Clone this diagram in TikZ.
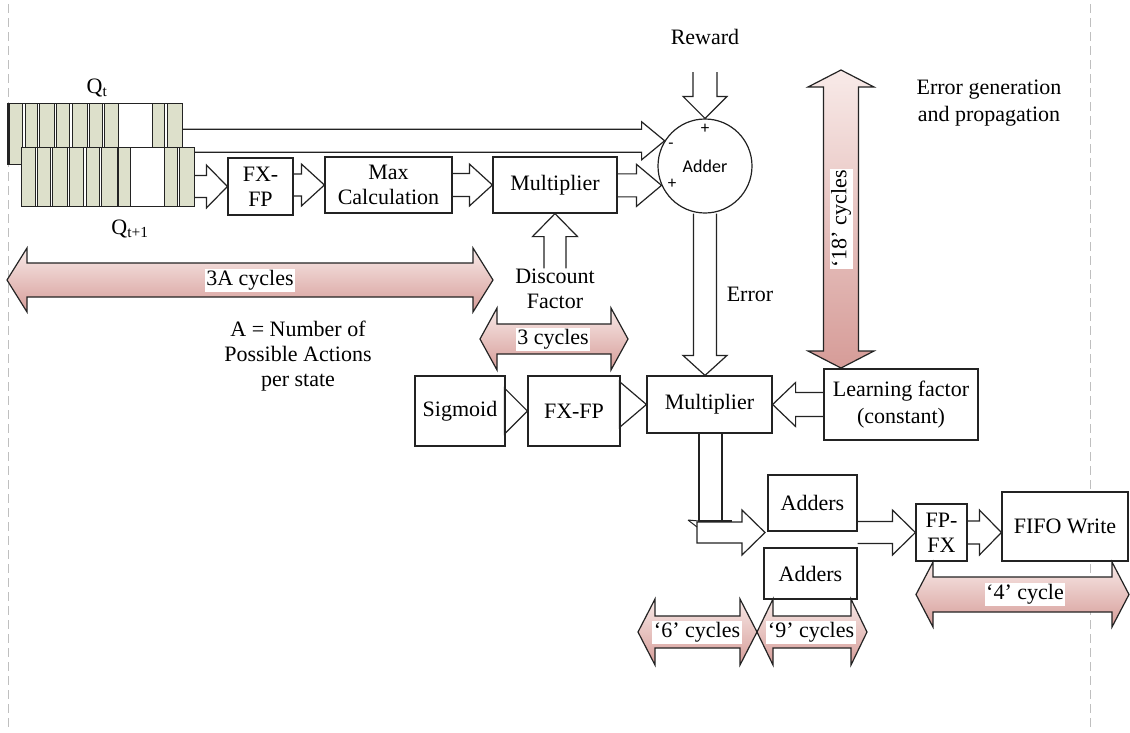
\documentclass[tikz,border=0pt]{standalone}
\usepackage{fontspec}
\setmainfont{Liberation Serif}
\newfontfamily\calib{Carlito}
\usetikzlibrary{calc}

\definecolor{cellgreen}{RGB}{221,224,203}
\definecolor{pinkL}{RGB}{248,234,232}
\definecolor{pinkD}{RGB}{214,156,152}
\definecolor{ink}{RGB}{35,35,35}

\tikzset{
  box/.style={draw=ink, line width=1.2pt, fill=white, inner sep=0pt, align=center},
  flow/.style={draw=ink, line width=1.2pt, line join=miter},
  span/.style={draw=ink, line width=1.2pt, top color=pinkL, bottom color=pinkD},
  spantext/.style={fill=white, inner sep=1.5pt},
  cell/.style={draw=ink, line width=1pt, fill=cellgreen},
  lbl/.style={inner sep=0pt, align=center},
  pm/.style={inner sep=0pt, font=\calib\fontsize{17}{17}\selectfont},
  guide/.style={draw=black!25, line width=1pt, dash pattern=on 9pt off 5pt},
  wide/.style={font=\fontsize{22}{27}\selectfont},
}

% block arrow, horizontal: [style]{start}{tip}{shaft half}{head half}{head length}
\newcommand\hflow[6][flow]{%
  \path[#1] let \p1=(#2), \p2=(#3), \n1={ifthenelse(\x2>\x1,1,-1)} in
   (\x1,{\y2+#4pt}) -- ({\x2-\n1*#6pt},{\y2+#4pt}) -- ({\x2-\n1*#6pt},{\y2+#5pt})
   -- (\x2,\y2) -- ({\x2-\n1*#6pt},{\y2-#5pt}) -- ({\x2-\n1*#6pt},{\y2-#4pt}) -- (\x1,{\y2-#4pt});}
% same, closed at its tail
\newcommand\hflowc[6][flow]{%
  \path[#1] let \p1=(#2), \p2=(#3), \n1={ifthenelse(\x2>\x1,1,-1)} in
   (\x1,{\y2+#4pt}) -- ({\x2-\n1*#6pt},{\y2+#4pt}) -- ({\x2-\n1*#6pt},{\y2+#5pt})
   -- (\x2,\y2) -- ({\x2-\n1*#6pt},{\y2-#5pt}) -- ({\x2-\n1*#6pt},{\y2-#4pt}) -- (\x1,{\y2-#4pt}) -- cycle;}
% block arrow, vertical
\newcommand\vflow[6][flow]{%
  \path[#1] let \p1=(#2), \p2=(#3), \n1={ifthenelse(\y2>\y1,1,-1)} in
   ({\x2+#4pt},\y1) -- ({\x2+#4pt},{\y2-\n1*#6pt}) -- ({\x2+#5pt},{\y2-\n1*#6pt})
   -- (\x2,\y2) -- ({\x2-#5pt},{\y2-\n1*#6pt}) -- ({\x2-#4pt},{\y2-\n1*#6pt}) -- ({\x2-#4pt},\y1);}
% double-headed span arrows
\newcommand\hspan[6][span]{%
  \path[#1] let \p1=(#2), \p2=(#3) in (\x1,\y1) -- ({\x1+#6pt},{\y1+#5pt}) -- ({\x1+#6pt},{\y1+#4pt})
   -- ({\x2-#6pt},{\y1+#4pt}) -- ({\x2-#6pt},{\y1+#5pt}) -- (\x2,\y1) -- ({\x2-#6pt},{\y1-#5pt})
   -- ({\x2-#6pt},{\y1-#4pt}) -- ({\x1+#6pt},{\y1-#4pt}) -- ({\x1+#6pt},{\y1-#5pt}) -- cycle;}
\newcommand\vspan[6][span]{%
  \path[#1] let \p1=(#2), \p2=(#3) in (\x1,\y1) -- ({\x1+#5pt},{\y1-#6pt}) -- ({\x1+#4pt},{\y1-#6pt})
   -- ({\x1+#4pt},{\y2+#6pt}) -- ({\x1+#5pt},{\y2+#6pt}) -- (\x1,\y2) -- ({\x1-#5pt},{\y2+#6pt})
   -- ({\x1-#4pt},{\y2+#6pt}) -- ({\x1-#4pt},{\y1-#6pt}) -- ({\x1-#5pt},{\y1-#6pt}) -- cycle;}

\begin{document}
\fontsize{22}{25}\selectfont
\begin{tikzpicture}[x=1pt,y=-1pt]
\useasboundingbox (0,0) rectangle (1130,732);
\fill[white] (0,0) rectangle (1130,732);

% stage guides
\draw[guide] (8,4) -- (8,728);
\draw[guide] (1090,4) -- (1090,728);

% Q-table rows
\node[inner sep=0pt, minimum width=174pt, minimum height=61pt] (qt) at (95,133.5) {};
\node[inner sep=0pt, minimum width=173pt, minimum height=59pt] (qn) at (107.5,176.5) {};
\node[lbl] (qtl) at (97,88) {Q\textsubscript{t}};
\node[lbl] (qnl) at (130,229) {Q\textsubscript{t+1}};

\draw[draw=ink, line width=1pt, fill=white] (8,103) rectangle (182,164);
\foreach \a/\b in {8/22,25/37,39/54,56/69,72/87,89/102,104/118,152/164,167/182}
  \draw[cell] (\a,103) rectangle (\b,164);
\draw[ink, line width=2.4pt] (8.5,103) -- (8.5,164.5);

% blocks
\node[box, circle, minimum size=94pt, font=\calib\fontsize{18}{18}\selectfont] (adder) at (705,166) {Adder};
\node[box, minimum width=65pt, minimum height=57pt] (fxa) at (260.5,186.5) {FX-\\FP};
\node[box, minimum width=127pt, minimum height=56pt] (maxc) at (388.5,185) {Max\\Calculation};
\node[box, minimum width=124pt, minimum height=56pt] (mula) at (555,185) {Multiplier};
\node[box, minimum width=90pt, minimum height=70pt] (sig) at (460,411) {Sigmoid};
\node[box, minimum width=92pt, minimum height=70pt] (fxb) at (574,411) {FX-FP};
\node[box, minimum width=125pt, minimum height=57pt] (mulb) at (709.5,404.5) {Multiplier};
\node[box, wide, minimum width=154pt, minimum height=71pt] (learn) at (901,404.5) {Learning factor\\(constant)};
\node[box, minimum width=89pt, minimum height=56pt] (adda) at (812.5,503) {Adders};
\node[box, minimum width=93pt, minimum height=51pt] (addb) at (810.5,573.5) {Adders};
\node[box, minimum width=51pt, minimum height=57pt] (fpfx) at (941.5,532.5) {FP-\\FX};
\node[box, minimum width=126pt, minimum height=69pt] (fifo) at (1065,526.5) {FIFO Write};

% Q_t into the subtracting input
\hflow{qt.east}{adder.148}{11.5}{19}{23}

% Q_{t+1} row over it
\draw[draw=ink, line width=1pt, fill=white] (21,147) rectangle (194,206);
\foreach \a/\b in {21/35,37/50,52/67,69/83,86/99,101/117,118/130,164/177,179/194}
  \draw[cell] (\a,147) rectangle (\b,206);

% labels
\node[lbl] (rwl) at (705,37) {Reward};
\coordinate (rwd) at (705,72);
\node[lbl] (disc) at (555,288.5) {Discount\\Factor};
\node[lbl] (errl) at (750,294) {Error};
\node[lbl, wide] (egp) at (989,103.5) {Error generation\\and propagation};
\node[lbl, align=center] (anote) at (298,356) {A = Number of\\Possible Actions\\per state};

% signs on the adder
\node[pm] (pt) at (705,129) {+};
\node[pm] (mn) at (671,146) {-};
\node[pm] (pb) at (672,184) {+};

% data path
\hflow{qn.east}{fxa.west}{11}{21.5}{21}
\hflow{fxa.east}{maxc.west}{11}{21}{23}
\hflow{maxc.east}{mula.west}{11.5}{21}{23}
\hflow{mula.east}{adder.204}{11.5}{21}{25}
\vflow{rwd}{adder.north}{12}{22}{22}
\vflow{disc.north}{mula.south}{11}{22.5}{23}
\vflow{adder.south}{adder.south |- mulb.north}{11.5}{22}{20}
\hflow{learn.west}{mulb.east}{12}{22}{23}
\hflow{sig.east}{fxb.west}{0}{23}{23}
\hflow{fxb.east}{mulb.west}{0}{23}{27}

% bent path from the lower multiplier to the adders
\coordinate (bendL) at (699,521);
\coordinate (bendR) at (722,521);
\coordinate (bendE) at (732,521);
\coordinate (tail) at (697,532.5);
\coordinate (gap) at (765,532.5);
\draw[flow] (mulb.south -| bendL) -- (bendL) -- (bendE);
\draw[flow] (mulb.south -| bendR) -- (bendR);
\draw[flow, line width=2pt] (bendR) -- (bendE);
\draw[flow, line width=1pt] (688,520) -- (bendL) (688,520) -- (697,527);
\hflowc{tail}{gap}{10.5}{22.5}{23}
\hflow{adda.east}{fpfx.west}{11}{22.5}{23}
\hflow{fpfx.east}{fifo.west |- fpfx.east}{11.5}{22.5}{22}

% latency spans
\coordinate (s3aL) at (7,280);   \coordinate (s3aR) at (493,280);
\coordinate (s3L) at (480,339);  \coordinate (s3R) at (628,339);
\coordinate (s18T) at (841,70);  \coordinate (s18B) at (841,368);
\coordinate (s6L) at (638,632);  \coordinate (s6R) at (757,632);
\coordinate (s9L) at (757,632);  \coordinate (s9R) at (867,632);
\coordinate (s4L) at (916,594.5); \coordinate (s4R) at (1129,594.5);
\hspan{s3aL}{s3aR}{17}{32}{20}
\hspan{s3L}{s3R}{15}{31}{17}
\vspan{s18T}{s18B}{17.5}{33}{17}
\hspan{s6L}{s6R}{16}{33}{17}
\hspan{s9L}{s9R}{16}{33}{16}
\hspan{s4L}{s4R}{17.5}{32.5}{17}
\node[spantext] (t3a) at (250,280) {3A cycles};
\node[spantext] (t3) at (553,339) {3 cycles};
\node[spantext, rotate=90] (t18) at (841,219) {‘18’ cycles};
\node[spantext] (t6) at (697,632) {‘6’ cycles};
\node[spantext] (t9) at (811,632) {‘9’ cycles};
\node[spantext] (t4) at (1025,594) {‘4’ cycle};
\end{tikzpicture}
\end{document}
